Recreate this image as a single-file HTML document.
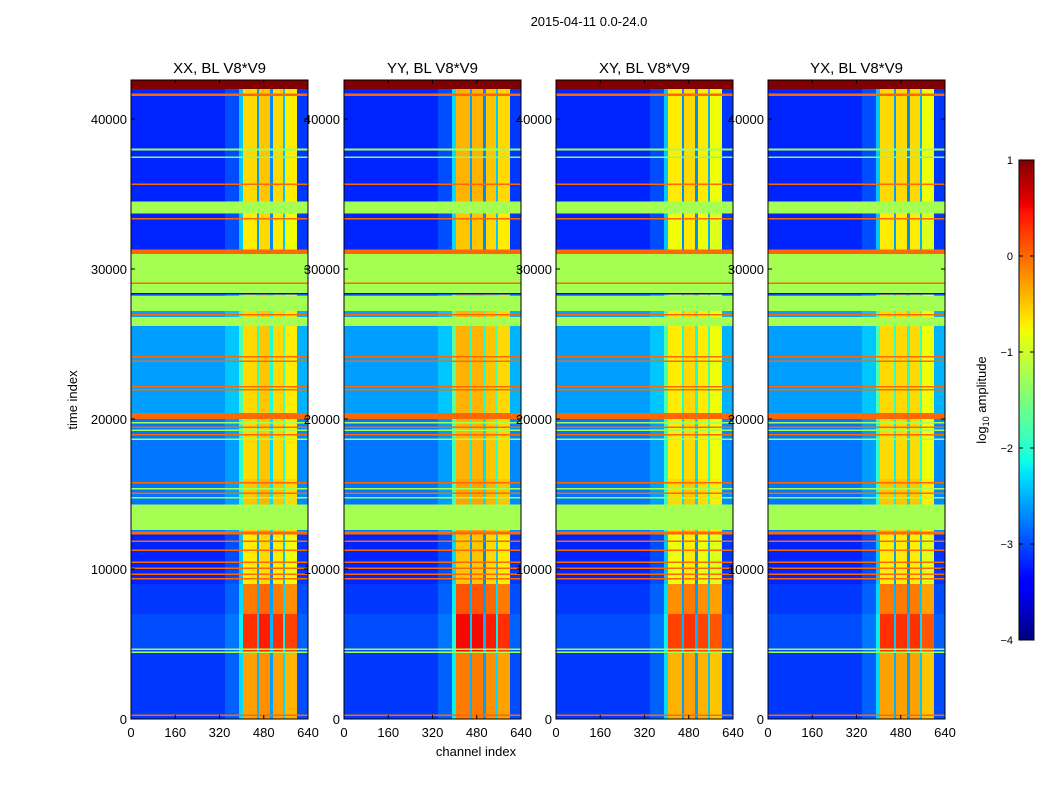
<!DOCTYPE html>
<html><head><meta charset="utf-8">
<style>
body{margin:0;background:#fff;font-family:"Liberation Sans",sans-serif;}
svg text{font-family:"Liberation Sans",sans-serif;}
</style></head>
<body>
<svg id="fig" width="1050" height="800" xmlns="http://www.w3.org/2000/svg">
<rect width="1050" height="800" fill="#fff"/>
<text x="589" y="26" font-size="13" text-anchor="middle">2015-04-11 0.0-24.0</text>
<text x="476" y="756" font-size="13" text-anchor="middle">channel index</text>
<text x="77" y="400" font-size="13" text-anchor="middle" transform="rotate(-90 77 400)">time index</text>
<g id="panels"></g>
<g id="cbar"></g>
</svg>
<script>
const panelTitles = ["XX, BL V8*V9","YY, BL V8*V9","XY, BL V8*V9","YX, BL V8*V9"];
const xTicks = [0,160,320,480,640];
const yTicks = [0,10000,20000,30000,40000];
const cbarTicks = [1,0,-1,-2,-3,-4];
const channelEdges = [0,340,390,405,455,463,503,513,550,557,600,640];
const columnValues = [
  [-3.2,-3.0,-2.4,-0.7,-2.6,-0.6,-2.7,-0.7,-2.4,-0.8,-3.1],
  [-3.2,-3.0,-2.3,-0.5,-2.6,-0.5,-2.7,-0.6,-2.4,-0.7,-3.1],
  [-3.2,-3.0,-2.4,-0.8,-2.7,-0.7,-2.7,-0.8,-2.5,-0.9,-3.1],
  [-3.2,-3.0,-2.4,-0.7,-2.6,-0.7,-2.7,-0.7,-2.5,-0.9,-3.1]
];
// normal rows: [tStart, tEnd, backgroundShift, peakShift]
const rowStarts = [0,4500,7000,9000,12500,16000,20300,31300,34300];
const rowEnds   = [4500,7000,9000,12500,16000,20300,31300,34300,42600];
const rowBgShift   = [0.1,0.2,0.1,0,0.4,0.4,0.6,0,0];
const rowPeakShift = [0.4,1.0,0.6,0,0.2,0.1,0.1,0,0.1];
// flagged rows: [tStart, tEnd, value]
const flagRows = [[42000,42600,1.0],[41550,41700,0],[37900,38050,-1.3],[37400,37500,-1.5],[35600,35700,0],[33700,34500,-1.25],[33300,33400,0],[31000,31300,0],[28400,31000,-1.25],[29000,29100,0],[28300,28400,-3.5],[27200,28200,-1.25],[26900,27000,0],[26200,26800,-1.25],[24100,24200,0],[23800,23900,0],[22100,22200,0],[21900,22000,0],[20000,20400,0],[19700,19800,-1.25],[19400,19500,0],[19200,19300,-1.25],[18900,19000,0],[18600,18700,-1.25],[15700,15800,0],[15300,15400,-1.25],[15000,15100,0],[14700,14800,-1.25],[12600,14300,-1.25],[12300,12500,0],[11800,11900,0],[11200,11300,0],[10400,10500,0],[10000,10100,0],[9600,9700,0],[9300,9400,0],[4600,4700,-1.25],[4400,4500,-1.25],[200,300,0]];

const NS="http://www.w3.org/2000/svg";
const panelX=[131,344,556,768], PW=177, PTOP=80, PBOT=719, TMAX=42600;
const yScale=t=>PBOT-(t/TMAX)*(PBOT-PTOP);
function interp(x,pts){for(let i=0;i<pts.length-1;i++){const [x0,y0]=pts[i],[x1,y1]=pts[i+1];if(x>=x0&&x<=x1)return y0+(y1-y0)*(x-x0)/(x1-x0);}return pts[pts.length-1][1];}
function jet(v){
  let x=(v+4)/5; x=Math.max(0,Math.min(1,x));
  const r=interp(x,[[0,0],[0.35,0],[0.66,1],[0.89,1],[1,0.5]]);
  const g=interp(x,[[0,0],[0.125,0],[0.375,1],[0.64,1],[0.91,0],[1,0]]);
  const b=interp(x,[[0,0.5],[0.11,1],[0.34,1],[0.65,0],[1,0]]);
  return `rgb(${Math.round(r*255)},${Math.round(g*255)},${Math.round(b*255)})`;
}
function mk(tag,attrs,parent){const e=document.createElementNS(NS,tag);for(const k in attrs)e.setAttribute(k,attrs[k]);parent.appendChild(e);return e;}
const panels=document.getElementById('panels');
panelX.forEach((px,p)=>{
  const xScale=c=>px+c/640*PW;
  const g=mk('g',{},panels);
  
  
  rowStarts.forEach((t0,r)=>{
    for(let c=0;c<columnValues[p].length;c++){
      const cv=columnValues[p][c];
      const v=cv<-1.5?cv+rowBgShift[r]:cv+rowPeakShift[r];
      const y1=yScale(rowEnds[r]), y0=yScale(t0);
      const rc=mk('rect',{x:xScale(channelEdges[c]),y:y1,width:xScale(channelEdges[c+1])-xScale(channelEdges[c]),height:y0-y1,fill:jet(v),'shape-rendering':'crispEdges'},g);
      
      
    }
  });
  flagRows.forEach(f=>{
    const y1=yScale(f[1]), y0=yScale(f[0]);
    const rc=mk('rect',{x:px,y:y1,width:PW,height:Math.max(1,y0-y1),fill:jet(f[2]),'shape-rendering':'crispEdges'},g);
    
    
  });
  mk('rect',{x:px,y:PTOP,width:PW,height:PBOT-PTOP,fill:'none',stroke:'#000','stroke-width':1},g);
  const tt=mk('text',{x:px+PW/2,y:73,'font-size':15,'text-anchor':'middle'},g);
  tt.textContent=panelTitles[p];
  
  
  xTicks.forEach(v=>{
    const x=xScale(v);
    mk('line',{x1:x,x2:x,y1:PBOT,y2:PBOT-4,stroke:'#000'},g);
    mk('line',{x1:x,x2:x,y1:PTOP,y2:PTOP+4,stroke:'#000'},g);
    const t=mk('text',{x:x,y:737,'font-size':13,'text-anchor':'middle'},g);
    t.textContent=v;
    
    
  });
  yTicks.forEach(v=>{
    const y=yScale(v);
    mk('line',{x1:px,x2:px+4,y1:y,y2:y,stroke:'#000'},g);
    mk('line',{x1:px+PW,x2:px+PW-4,y1:y,y2:y,stroke:'#000'},g);
    const t=mk('text',{x:px-4,y:y+5,'font-size':13,'text-anchor':'end'},g);
    t.textContent=v;
    
    
  });
});
// colorbar
const cb=document.getElementById('cbar');


const CX=1019,CW=15,CT=160,CB=640;
const cyScale=v=>CB-(v+4)/5*(CB-CT);
for(let i=0;i<240;i++){
  const v=-4+(i+0.5)*5/240;
  mk('rect',{x:CX,y:CB-(i+1)*2,width:CW,height:2.2,fill:jet(v),'shape-rendering':'crispEdges'},cb);
}
mk('rect',{x:CX,y:CT,width:CW,height:CB-CT,fill:'none',stroke:'#000'},cb);
cbarTicks.forEach(v=>{
  const y=cyScale(v);
  mk('line',{x1:CX+CW,x2:CX+CW-4,y1:y,y2:y,stroke:'#000'},cb);
  mk('line',{x1:CX,x2:CX+4,y1:y,y2:y,stroke:'#000'},cb);
  const t=mk('text',{x:1013,y:y+4,'font-size':11,'text-anchor':'end'},cb);
  t.textContent=v<0?'\u2212'+Math.abs(v):v;
  
  
});
const cl=mk('text',{x:986,y:400,'font-size':13,'text-anchor':'middle',transform:'rotate(-90 986 400)'},cb);
cl.innerHTML='log<tspan font-size="9" dy="3">10</tspan><tspan dy="-3"> amplitude</tspan>';


</script>
</body></html>
